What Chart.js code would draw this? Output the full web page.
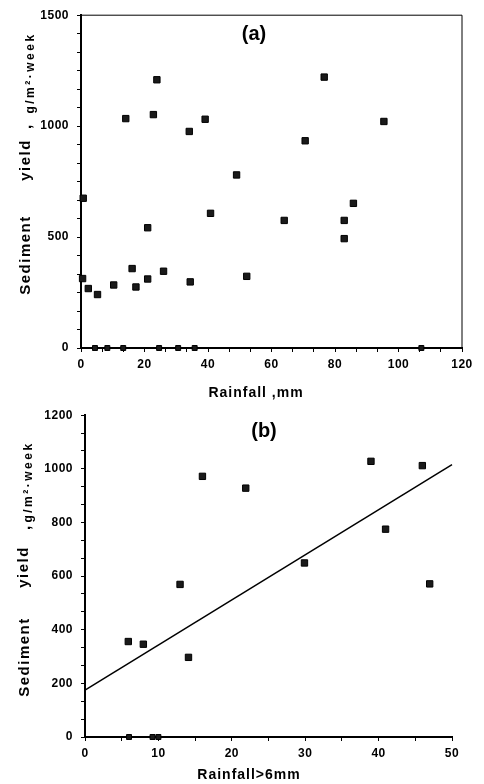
<!DOCTYPE html>
<html>
<head>
<meta charset="utf-8">
<script src="https://cdn.jsdelivr.net/npm/chart.js@4.4.1/dist/chart.umd.min.js"></script>
<style>
html, body { margin: 0; padding: 0; background: #fff; }
canvas { display: block; }
</style>
</head>
<body>
<canvas id="chartA" width="484" height="400"></canvas>
<canvas id="chartB" width="484" height="384"></canvas>
<script>
// (a) weekly rainfall (mm) vs sediment yield (g/m2.week)
const rainA = [0.5, 2.3, 5.2, 10.3, 16.1, 17.3, 21, 21, 26, 34.4, 40.8, 0.7, 14.1, 22.8, 23.9, 34.1, 39.1, 49, 76.6, 95.4, 70.6, 85.8, 64, 82.9, 82.9, 52.2];
const sedA  = [313, 268, 241, 284, 358, 275, 542, 311, 346, 298, 607, 675, 1034, 1052, 1209, 976, 1031, 780, 1221, 1021, 934, 652, 575, 575, 493, 323];
const rainZeroA = [4.4, 8.3, 13.3, 24.6, 30.6, 35.8, 107.2];
const xMajorA = [0, 20, 40, 60, 80, 100, 120];
const yMajorA = [0, 500, 1000, 1500];

// (b) rainfall above 6 mm vs sediment yield, with fitted line
const rainB = [5.9, 7.95, 14.1, 16, 12.95, 38.96, 45.96, 21.9, 40.95, 29.9, 46.96];
const sedB  = [356, 346, 297, 972, 569, 1028, 1012, 928, 775, 649, 571];
const rainZeroB = [6, 9.2, 10];
const fitX = [0, 50];
const fitY = [175, 1016];
const xMajorB = [0, 10, 20, 30, 40, 50];
const yMajorB = [0, 200, 400, 600, 800, 1000, 1200];

const FONT = '"Liberation Sans", Arial, sans-serif';

function withMinor(majors, n) {
    const out = [];
    for (let i = 0; i < majors.length; i++) {
        out.push(majors[i]);
        if (i < majors.length - 1) {
            const step = (majors[i + 1] - majors[i]) / n;
            for (let k = 1; k < n; k++) out.push(majors[i] + k * step);
        }
    }
    return out;
}

function isMajor(v, majors) {
    return majors.some(m => Math.abs(m - v) < 1e-6);
}

function toPoints(xs, ys) {
    return xs.map((x, i) => ({ x: x, y: ys[i] }));
}

const decorPlugin = {
    id: 'decor',
    beforeDraw(chart) {
        chart.ctx.letterSpacing = '0.5px';
    },
    afterDraw(chart, args, opts) {
        const ctx = chart.ctx;
        const a = chart.chartArea;
        ctx.save();
        if (opts.frame) {
            ctx.strokeStyle = '#000';
            ctx.lineWidth = 1;
            ctx.beginPath();
            ctx.moveTo(a.left, a.top);
            ctx.lineTo(a.right, a.top);
            ctx.lineTo(a.right, a.bottom);
            ctx.stroke();
        }
        (opts.texts || []).forEach(t => {
            ctx.save();
            ctx.translate(t.x, t.y);
            if (t.rotate) ctx.rotate(-Math.PI / 2);
            ctx.font = 'bold ' + t.size + 'px ' + FONT;
            ctx.letterSpacing = (t.spacing || 0) + 'px';
            ctx.fillStyle = '#000';
            ctx.textAlign = 'center';
            ctx.textBaseline = 'middle';
            ctx.fillText(t.text, 0, 0);
            ctx.restore();
        });
        ctx.restore();
    }
};

const markerStyle = {
    pointStyle: 'rect',
    pointRadius: 4.5,
    backgroundColor: '#1a1a1a',
    borderColor: '#000',
    borderWidth: 1,
    clip: false
};

const zeroStyle = Object.assign({}, markerStyle, { pointRadius: 3.5 });

function axis(min, max, ticksList, majors, fitSize, horizontal, pad) {
    return {
        type: 'linear',
        min: min,
        max: max,
        afterBuildTicks: s => { s.ticks = ticksList.map(v => ({ value: v })); },
        afterFit: s => { if (horizontal) s.height = fitSize; else s.width = fitSize; },
        ticks: {
            autoSkip: false,
            maxRotation: 0,
            padding: pad,
            color: '#000',
            font: { family: FONT, size: 12, weight: 'bold' },
            callback: v => isMajor(v, majors) ? String(v) : ''
        },
        grid: { drawOnChartArea: false, drawTicks: true, tickLength: 4, color: '#000', lineWidth: 1 },
        border: { color: '#000', width: 2 }
    };
}

// 1. Panel (a)
new Chart(document.getElementById('chartA').getContext('2d'), {
    type: 'scatter',
    data: {
        datasets: [
            Object.assign({ data: toPoints(rainA, sedA) }, markerStyle),
            Object.assign({ data: rainZeroA.map(x => ({ x: x, y: 0 })) }, zeroStyle)
        ]
    },
    options: {
        responsive: false,
        animation: false,
        layout: { padding: { top: 14, right: 22, left: 0, bottom: 0 } },
        plugins: {
            legend: { display: false },
            tooltip: { enabled: false },
            decor: {
                frame: true,
                texts: [
                    { text: '(a)', x: 254, y: 34, size: 20 },
                    { text: 'Rainfall ,mm', x: 256, y: 393, size: 14, spacing: 1 },
                    { text: 'Sediment', x: 26, y: 255, size: 15, spacing: 1.5, rotate: true },
                    { text: 'yield', x: 26, y: 160, size: 15, spacing: 1.5, rotate: true },
                    { text: ',', x: 27, y: 127, size: 15, rotate: true },
                    { text: 'g/m²·week', x: 31, y: 73, size: 12, spacing: 2.5, rotate: true }
                ]
            }
        },
        scales: {
            x: axis(0, 120, withMinor(xMajorA, 3), xMajorA, 52, true, 5),
            y: axis(0, 1500, withMinor(yMajorA, 6), yMajorA, 81, false, 8)
        }
    },
    plugins: [decorPlugin]
});

// 2. Panel (b)
new Chart(document.getElementById('chartB').getContext('2d'), {
    type: 'scatter',
    data: {
        datasets: [
            Object.assign({ data: toPoints(rainB, sedB) }, markerStyle),
            Object.assign({ data: rainZeroB.map(x => ({ x: x, y: 0 })) }, zeroStyle),
            {
                type: 'line',
                data: toPoints(fitX, fitY),
                borderColor: '#000',
                borderWidth: 1.5,
                pointRadius: 0,
                fill: false,
                clip: false
            }
        ]
    },
    options: {
        responsive: false,
        animation: false,
        layout: { padding: { top: 15, right: 32, left: 0, bottom: 0 } },
        plugins: {
            legend: { display: false },
            tooltip: { enabled: false },
            decor: {
                frame: false,
                texts: [
                    { text: '(b)', x: 264, y: 31, size: 20 },
                    { text: 'Rainfall>6mm', x: 249, y: 375, size: 14, spacing: 1 },
                    { text: 'Sediment', x: 25, y: 257, size: 15, spacing: 1.5, rotate: true },
                    { text: 'yield', x: 24, y: 167, size: 15, spacing: 1.5, rotate: true },
                    { text: ',', x: 26, y: 128, size: 15, rotate: true },
                    { text: 'g/m²·week', x: 29, y: 82, size: 12, spacing: 2.5, rotate: true }
                ]
            }
        },
        scales: {
            x: axis(0, 50, withMinor(xMajorB, 2), xMajorB, 47, true, 5),
            y: axis(0, 1200, withMinor(yMajorB, 3), yMajorB, 85, false, 8)
        }
    },
    plugins: [decorPlugin]
});
</script>
</body>
</html>
